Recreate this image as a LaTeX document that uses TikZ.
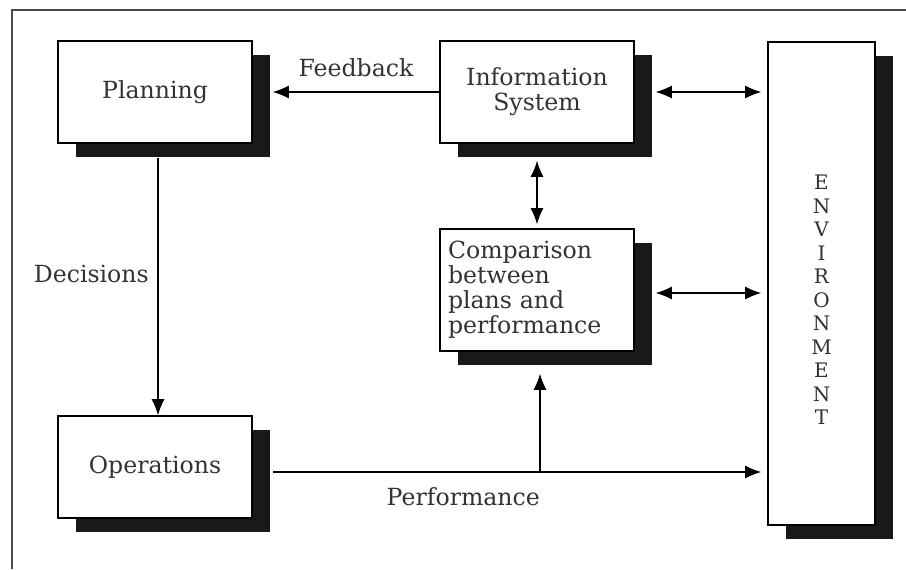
\documentclass[tikz,border=0pt]{standalone}
\usepackage{fontspec}
\setmainfont{DejaVu Serif}
\usetikzlibrary{calc, positioning, arrows.meta, shadows}

\tikzset{
  block/.style={draw, thick, fill=white, minimum width=97pt, minimum height=51pt,
    drop shadow={shadow xshift=9pt, shadow yshift=-7pt, fill=black!90, opacity=1}},
  link/.style={semithick, -{Latex[length=8pt,width=6.5pt]}},
  twoway/.style={semithick, {Latex[length=8pt,width=6.5pt]}-{Latex[length=8pt,width=6.5pt]}}
}

\begin{document}
\begin{tikzpicture}[x=0.5pt, y=-0.5pt, font=\fontsize{11.8}{12.5}\selectfont, text=black!80]
    \useasboundingbox (0,0) rectangle (906,569);

    % Outer frame
    \draw[thick, black!70] (906,10) -- (12,10) -- (12,569);

    % Blocks
    \node[block] (plan) at (155,92) {Planning};
    \node[block, align=center] (info) at (537,92) {Information\\System};
    \node[block, align=left, text width=89pt, minimum height=61pt] (comp) at (537,290)
      {Comparison\\between\\plans and\\performance};
    \node[block] (ops) at (155,467) {Operations};
    \node[block, minimum width=53.5pt, minimum height=241.5pt] (env) at (821.5,283.5) {};
    \node[align=center, font=\fontsize{10}{11.75}\selectfont] (envtext) at (821.5,300)
      {E\\N\\V\\I\\R\\O\\N\\M\\E\\N\\T};

    % Feedback and decisions
    \draw[link] (info.west) -- ([xshift=10pt]plan.east) node[midway, above=4pt] {Feedback};
    \draw[link] ([xshift=1.5pt,yshift=-7pt]plan.south) -- ([xshift=1.5pt]ops.north)
      node[pos=0.45, left=1pt] {Decisions};

    % Two-way links
    \draw[twoway] ([yshift=-8.5pt]info.south) -- ([yshift=2pt]comp.north);
    \draw[twoway] ([xshift=10.5pt]info.east) -- ([xshift=-3pt]info.east -| env.west);
    \draw[twoway] ([xshift=10.5pt,yshift=-1.5pt]comp.east) -- ([xshift=-3pt,yshift=-1.5pt]comp.east -| env.west);

    % Performance
    \coordinate (perf) at ([xshift=10pt,yshift=-2.5pt]ops.east);
    \draw[link] (perf) -- ([xshift=-3pt]perf -| env.west) node[pos=0.39, below=4pt] {Performance};
    \draw[link] ([xshift=1.5pt]perf -| comp.south) -- ([xshift=1.5pt,yshift=-11pt]comp.south);
\end{tikzpicture}
\end{document}
